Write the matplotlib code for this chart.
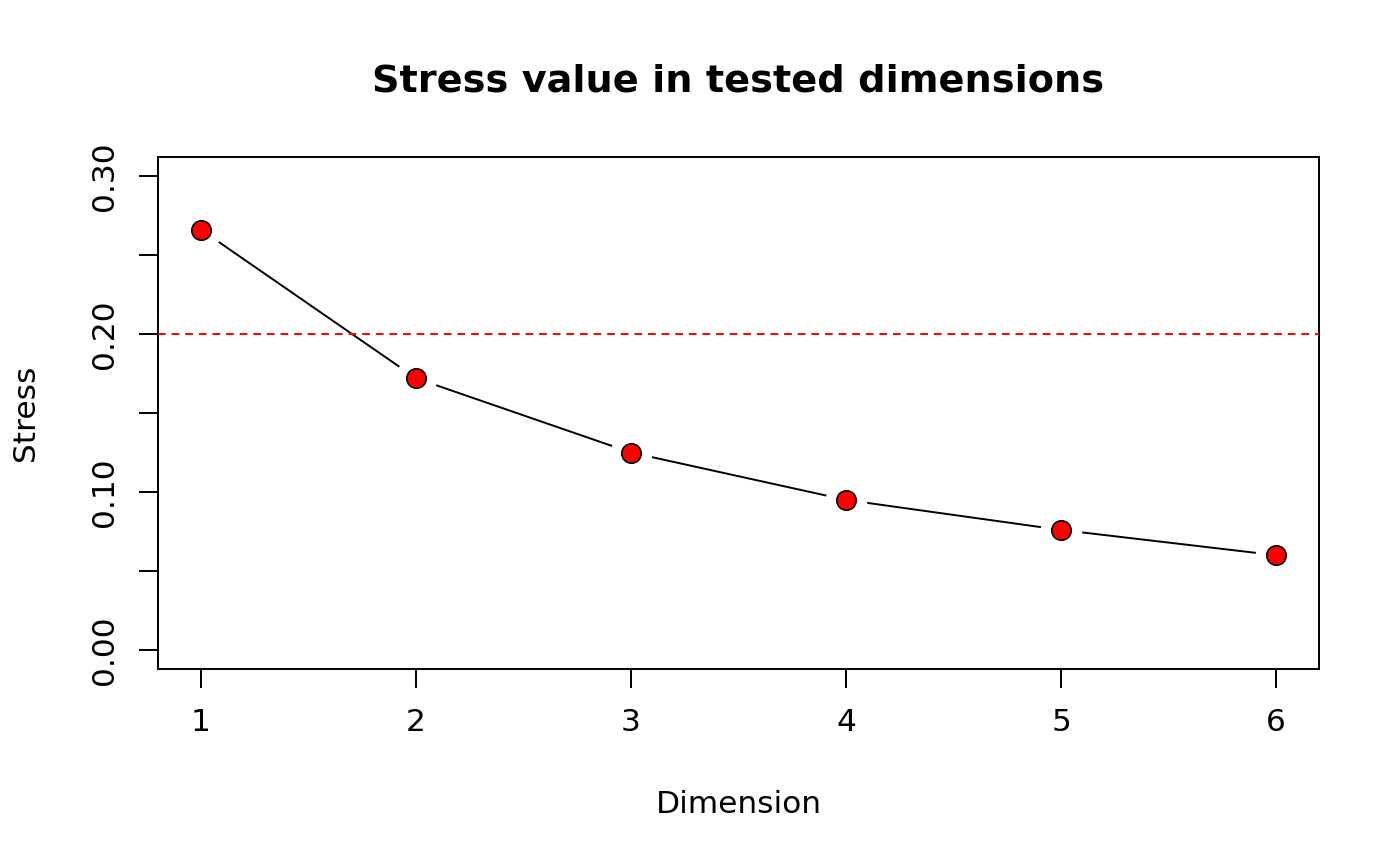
import numpy as np
import matplotlib.pyplot as plt

# stress per tested dimension
dims = [1, 2, 3, 4, 5, 6]
stress = [0.266, 0.172, 0.125, 0.095, 0.076, 0.060]
threshold = 0.20

yticks = [0.00, 0.05, 0.10, 0.15, 0.20, 0.25, 0.30]
ylabels = ['0.00', '', '0.10', '', '0.20', '', '0.30']

fig = plt.figure(figsize=(14, 8.66), dpi=100)
ax = fig.add_axes([158 / 1400, 1 - 669 / 866, (1319 - 158) / 1400, (669 - 157) / 866])

# R type="b": line with gaps round the points
ax.plot(dims, stress, color='black', lw=1.4, zorder=2)
ax.plot(dims, stress, 'o', ms=30, mfc='white', mec='none', zorder=3)
ax.plot(dims, stress, 'o', ms=14, mfc='red', mec='black', mew=1.2, zorder=4)
ax.axhline(threshold, color='red', ls=(0, (4, 3)), lw=1.4, zorder=5)

ax.set_xlim(0.8, 6.2)
ax.set_ylim(-0.012, 0.312)
ax.set_xticks(dims)
ax.set_xticklabels([str(d) for d in dims])
ax.set_yticks(yticks)
ax.set_yticklabels(ylabels, rotation=90, va='center')
ax.tick_params(direction='out', length=14, width=1.4, labelsize=22.5, pad=14)
for s in ax.spines.values():
    s.set_linewidth(1.4)

ax.set_xlabel('Dimension', fontsize=22.5, labelpad=38)
ax.set_ylabel('Stress', fontsize=22.5, labelpad=36)
ax.set_title('Stress value in tested dimensions', fontsize=27.5, fontweight='bold', pad=47)

fig.savefig('out.png', dpi=100)
